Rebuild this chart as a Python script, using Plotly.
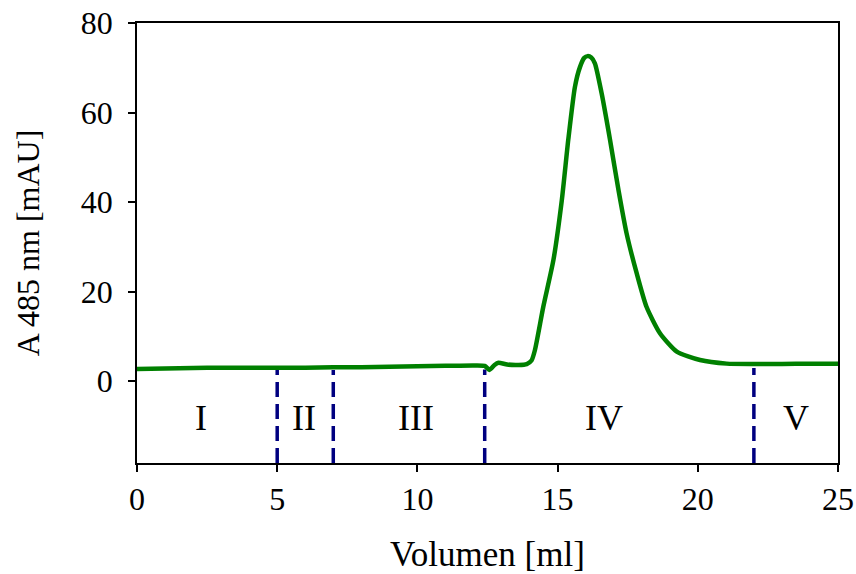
import plotly.graph_objects as go

# Chromatogram trace
volume_ml = [0, 1, 2, 3, 4, 5, 6, 7, 8, 9, 10, 11, 12, 12.4, 12.57, 12.75, 12.89, 13.2, 13.6, 13.9,
             14.07, 14.19, 14.49, 14.85, 15.15, 15.38, 15.62, 15.80, 15.95, 16.07, 16.2, 16.33,
             16.57, 16.87, 17.17, 17.46, 17.82, 18.17, 18.65, 19.25, 20.08, 21.03, 22, 23, 24, 25]
absorbance = [2.7, 2.8, 2.9, 3.0, 3.0, 3.0, 3.0, 3.1, 3.1, 3.2, 3.3, 3.4, 3.5, 3.4, 2.5, 3.6, 4.1, 3.7, 3.6, 3.8,
              4.6, 6.9, 16.6, 27.0, 40.4, 53.9, 65.8, 70.2, 72.2, 72.6, 72.3, 71.0,
              64.3, 53.9, 42.7, 33.0, 24.1, 16.6, 10.7, 6.6, 4.7, 3.9, 3.8, 3.8, 3.9, 3.9]

# Fraction boundaries
divider_x = [5, 7, 12.4, 22]
divider_top = [2.5, 2.5, 2.6, 2.9]

# Fraction labels
fraction_labels = ["I", "II", "III", "IV", "V"]
fraction_x = [2.3, 5.95, 9.95, 16.65, 23.5]
fraction_y = -8.3

y_min = -18.3

serif = "Liberation Serif, Times New Roman, Times, serif"

fig = go.Figure()

for dx, dt in zip(divider_x, divider_top):
    fig.add_trace(go.Scatter(x=[dx, dx], y=[y_min, dt], mode="lines",
                             line=dict(color="#000080", width=3.5, dash="15px,7px"),
                             showlegend=False, hoverinfo="skip"))

fig.add_trace(go.Scatter(x=volume_ml, y=absorbance, mode="lines",
                         line=dict(color="#008000", width=4.5, shape="spline", smoothing=0.6),
                         showlegend=False))

for lab, lx in zip(fraction_labels, fraction_x):
    fig.add_annotation(x=lx, y=fraction_y, text=lab, showarrow=False,
                       font=dict(family=serif, size=36, color="black"))

font = dict(family=serif, size=32, color="black")
fig.update_layout(
    width=856, height=574,
    margin=dict(l=137, r=18, t=23, b=111),
    plot_bgcolor="white", paper_bgcolor="white",
    font=font,
    xaxis=dict(range=[0, 25], tickvals=[0, 5, 10, 15, 20, 25], showgrid=False, zeroline=False,
               showline=True, linecolor="black", linewidth=1.5, mirror=True, automargin=False,
               ticks="outside", ticklen=7, tickwidth=1.5, tickcolor="black",
               ticklabelstandoff=0, tickfont=font,
               title=dict(text="Volumen [ml]", font=dict(family=serif, size=35), standoff=38)),
    yaxis=dict(range=[y_min, 80], tickvals=[0, 20, 40, 60, 80], showgrid=False, zeroline=False,
               showline=True, linecolor="black", linewidth=1.5, mirror=True, automargin=False,
               ticks="outside", ticklen=7, tickwidth=1.5, tickcolor="black",
               ticklabelstandoff=9, tickfont=font,
               title=dict(text="A 485 nm [mAU]", font=dict(family=serif, size=32), standoff=32)),
)

fig.write_html("out.html")
